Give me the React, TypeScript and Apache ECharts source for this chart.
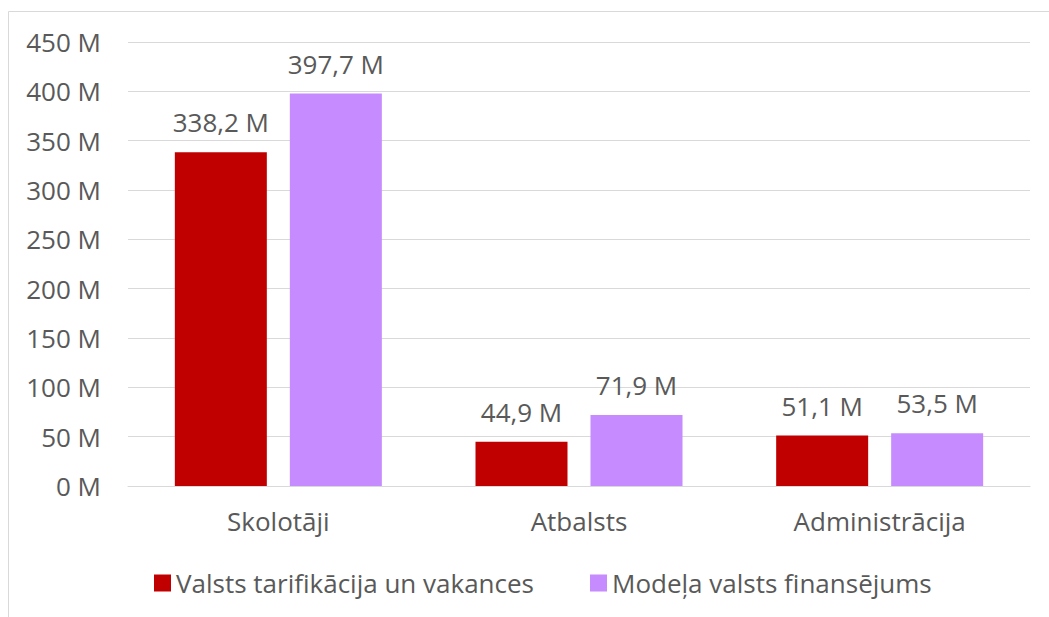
import React, { useEffect, useRef } from "react";
import * as echarts from "echarts";

const categories = ["Skolotāji", "Atbalsts", "Administrācija"];
const seriesNames = ["Valsts tarifikācija un vakances", "Modeļa valsts finansējums"];
const tarifikacija = [338.2, 44.9, 51.1];
const modelis = [397.7, 71.9, 53.5];
const colors = ["#C00000", "#C58BFF"];

const FONT = "'Open Sans', 'Noto Sans', sans-serif";
const TXT = "#595959";
const FS = 26;

function fmt(v: number) {
  return v.toFixed(1).replace(".", ",") + " M";
}

export default function App() {
  const ref = useRef<HTMLDivElement>(null);
  useEffect(() => {
    if (!ref.current) return;
    const chart = echarts.init(ref.current, null, { renderer: "svg" });
    const labelCfg = {
      show: true,
      position: "top" as const,
      distance: 17,
      color: TXT,
      fontSize: FS,
      fontFamily: FONT,
      formatter: (p: any) => fmt(p.value),
    };
    chart.setOption({
      animation: false,
      backgroundColor: "#ffffff",
      textStyle: { fontFamily: FONT },
      graphic: [
        {
          type: "rect",
          shape: { x: 8.5, y: 11.5, width: 1100, height: 700 },
          style: { fill: "none", stroke: "#D9D9D9", lineWidth: 1 },
          silent: true,
        },
      ],
      legend: {
        top: 565,
        left: 149,
        itemWidth: 17,
        itemHeight: 17,
        itemGap: 56,
        itemStyle: { borderWidth: 0 },
        icon: "rect",
        textStyle: { color: TXT, fontSize: FS, fontFamily: FONT },
        data: seriesNames,
      },
      grid: { left: 128, right: 19, top: 42, bottom: 131, containLabel: false },
      xAxis: {
        type: "category",
        data: categories,
        axisLine: { lineStyle: { color: "#D9D9D9", width: 1 } },
        axisTick: { show: false },
        axisLabel: { color: TXT, fontSize: FS, fontFamily: FONT, margin: 22 },
      },
      yAxis: {
        type: "value",
        min: 0,
        max: 450,
        interval: 50,
        axisLine: { show: false },
        axisTick: { show: false },
        splitLine: { lineStyle: { color: "#D9D9D9", width: 1 } },
        axisLabel: {
          color: TXT,
          fontSize: FS,
          fontFamily: FONT,
          margin: 27,
          formatter: (v: number) => v + " M",
        },
      },
      series: [
        {
          name: seriesNames[0],
          type: "bar",
          data: tarifikacija,
          barWidth: 92,
          barGap: "25%",
          itemStyle: { color: colors[0] },
          label: labelCfg,
        },
        {
          name: seriesNames[1],
          type: "bar",
          data: modelis,
          barWidth: 92,
          barGap: "25%",
          itemStyle: { color: colors[1] },
          label: labelCfg,
        },
      ],
    });
    return () => chart.dispose();
  }, []);
  return (
    <div
      ref={ref}
      style={{ position: "absolute", left: 0, top: 0, width: 1049, height: 617 }}
    />
  );
}
